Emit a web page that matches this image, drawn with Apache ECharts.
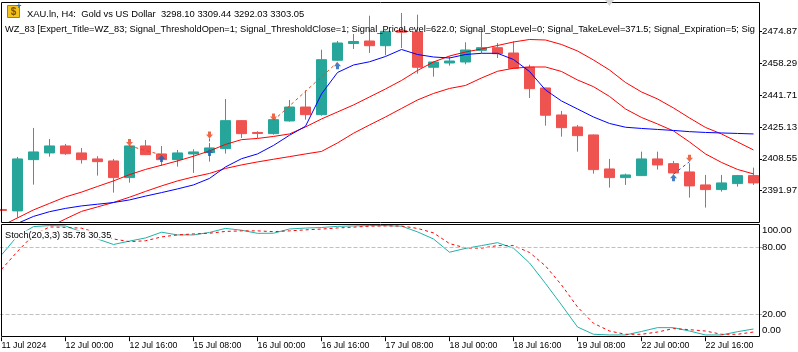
<!DOCTYPE html>
<html>
<head>
<meta charset="utf-8">
<script src="https://cdn.jsdelivr.net/npm/echarts@6/dist/echarts.min.js"></script>
<style>
  html, body { margin: 0; padding: 0; background: #fff; }
  #chart { width: 798px; height: 352px; }
</style>
</head>
<body>
<div id="chart"></div>
<script>
// H4 bars, oldest first (first bar is cut by the left edge)
const times = [
  '11 Jul 08:00', '11 Jul 12:00', '11 Jul 16:00', '11 Jul 20:00',
  '12 Jul 00:00', '12 Jul 04:00', '12 Jul 08:00', '12 Jul 12:00',
  '12 Jul 16:00', '12 Jul 20:00', '15 Jul 00:00', '15 Jul 04:00',
  '15 Jul 08:00', '15 Jul 12:00', '15 Jul 16:00', '15 Jul 20:00',
  '16 Jul 00:00', '16 Jul 04:00', '16 Jul 08:00', '16 Jul 12:00',
  '16 Jul 16:00', '16 Jul 20:00', '17 Jul 00:00', '17 Jul 04:00',
  '17 Jul 08:00', '17 Jul 12:00', '17 Jul 16:00', '17 Jul 20:00',
  '18 Jul 00:00', '18 Jul 04:00', '18 Jul 08:00', '18 Jul 12:00',
  '18 Jul 16:00', '18 Jul 20:00', '19 Jul 00:00', '19 Jul 04:00',
  '19 Jul 08:00', '19 Jul 12:00', '19 Jul 16:00', '19 Jul 20:00',
  '22 Jul 00:00', '22 Jul 04:00', '22 Jul 08:00', '22 Jul 12:00',
  '22 Jul 16:00', '22 Jul 20:00', '23 Jul 00:00', '23 Jul 04:00'
];
const firstLabel = '11 Jul 2024';

const open = [
  2382.20, 2381.46, 2408.13, 2411.61, 2415.25, 2411.61, 2408.49, 2407.45,
  2398.77, 2415.25, 2411.09, 2408.13, 2411.09, 2411.77, 2413.85, 2428.41,
  2422.27, 2421.64, 2428.25, 2435.49, 2431.52, 2459.80, 2468.53, 2469.83,
  2467.38, 2475.30, 2474.51, 2456.16, 2458.39, 2458.91, 2464.99, 2466.35,
  2463.59, 2456.16, 2445.40, 2431.36, 2425.12, 2420.97, 2403.29, 2398.77,
  2399.81, 2408.49, 2406.05, 2401.73, 2394.98, 2392.54, 2395.66, 2399.81
];
const close = [
  2381.70, 2408.49, 2412.13, 2415.25, 2411.20, 2408.13, 2407.09, 2398.77,
  2415.25, 2410.72, 2408.13, 2411.61, 2412.13, 2414.21, 2428.41, 2421.64,
  2421.75, 2428.92, 2435.49, 2431.52, 2460.11, 2468.79, 2469.57, 2467.38,
  2474.87, 2474.40, 2456.16, 2458.91, 2459.43, 2465.15, 2466.35, 2463.23,
  2455.64, 2445.03, 2431.21, 2424.76, 2420.60, 2402.93, 2398.77, 2400.17,
  2408.49, 2405.37, 2401.21, 2394.46, 2392.54, 2396.02, 2399.81, 2396.02
];
const low = [
  2381.50, 2377.98, 2395.13, 2409.69, 2410.57, 2406.05, 2399.81, 2390.97,
  2396.17, 2410.50, 2404.85, 2404.50, 2401.21, 2407.09, 2411.25, 2419.40,
  2419.40, 2421.12, 2427.90, 2428.92, 2431.00, 2459.43, 2465.67, 2463.59,
  2462.39, 2466.19, 2452.83, 2451.27, 2457.00, 2457.72, 2463.59, 2460.99,
  2455.27, 2440.20, 2425.80, 2420.08, 2412.29, 2400.85, 2393.57, 2394.98,
  2399.60, 2402.93, 2400.90, 2388.37, 2383.18, 2391.49, 2394.09, 2394.98
];
const high = [
  2382.40, 2409.53, 2424.61, 2418.89, 2416.29, 2414.21, 2409.90, 2408.49,
  2415.50, 2418.37, 2415.25, 2413.17, 2413.53, 2416.80, 2439.68, 2428.60,
  2422.90, 2429.50, 2439.16, 2444.20, 2465.30, 2469.83, 2473.47, 2482.98,
  2475.30, 2484.38, 2483.50, 2459.20, 2461.87, 2469.15, 2475.03, 2468.79,
  2469.67, 2457.51, 2445.60, 2433.44, 2426.16, 2421.20, 2408.49, 2400.85,
  2412.29, 2412.29, 2407.45, 2406.26, 2400.17, 2400.17, 2400.17, 2403.97
];

// moving averages drawn on price
const maBlue = [
  2371.59, 2374.97, 2378.60, 2381.05, 2382.76, 2384.06, 2384.94, 2385.83,
  2387.18, 2389.16, 2390.98, 2392.90, 2394.98, 2398.36, 2404.33, 2408.60,
  2411.09, 2415.51, 2420.81, 2425.49, 2442.28, 2453.45, 2457.35, 2459.02,
  2461.77, 2465.41, 2462.81, 2461.51, 2460.99, 2462.81, 2463.43, 2463.43,
  2460.21, 2453.97, 2444.36, 2438.64, 2434.48, 2430.30, 2426.94, 2424.97,
  2424.35, 2423.83, 2423.31, 2422.68, 2422.27, 2422.01, 2421.75, 2421.49
];
const maRedUpper = [
  2373.67, 2377.82, 2381.98, 2385.36, 2388.74, 2391.23, 2394.18, 2397.05,
  2400.33, 2403.03, 2405.22, 2407.45, 2409.90, 2412.65, 2416.03, 2418.53,
  2419.15, 2420.19, 2421.49, 2425.13, 2429.28, 2432.92, 2436.56, 2440.72,
  2444.88, 2449.30, 2454.49, 2458.91, 2462.03, 2464.11, 2465.67, 2467.49,
  2469.31, 2470.61, 2470.35, 2468.01, 2464.63, 2459.95, 2454.75, 2448.26,
  2443.32, 2439.68, 2435.00, 2429.80, 2424.87, 2421.49, 2417.33, 2413.17
];
const maRedLower = [
  2366.39, 2367.95, 2370.55, 2373.15, 2377.30, 2381.20, 2383.54, 2385.88,
  2388.58, 2391.60, 2394.46, 2397.06, 2399.14, 2400.95, 2403.55, 2405.37,
  2406.93, 2408.33, 2409.69, 2411.09, 2412.39, 2416.81, 2421.85, 2426.16,
  2430.32, 2434.74, 2439.16, 2442.54, 2445.14, 2446.70, 2450.60, 2454.08,
  2455.64, 2456.31, 2456.31, 2453.97, 2449.56, 2446.07, 2441.00, 2434.48,
  2430.06, 2426.68, 2423.05, 2417.33, 2411.09, 2406.67, 2403.03, 2400.69
];

// Stochastic(20,3,3)
const stochMain = [
  73.2, 90.1, 98.4, 99.3, 99.0, 93.7, 87.4, 82.5, 85.5, 88.3, 93.4, 91.0,
  91.0, 93.2, 96.8, 95.2, 92.4, 92.5, 96.3, 97.1, 97.6, 98.6, 99.0, 99.3,
  99.3, 98.8, 93.7, 87.4, 75.6, 79.0, 81.5, 84.1, 79.2, 66.1, 47.8, 28.7,
  9.1, 2.6, 2.0, 2.0, 5.1, 8.5, 8.5, 5.5, 2.0, 2.0, 4.9, 7.3
];
const stochSignal = [
  60.3, 76.3, 91.0, 98.1, 97.7, 97.0, 92.8, 87.4, 85.0, 85.8, 89.2, 91.0,
  91.9, 92.5, 94.1, 94.6, 94.6, 93.9, 94.6, 95.5, 96.2, 97.2, 97.9, 98.8,
  99.0, 98.9, 96.8, 92.8, 83.3, 79.4, 79.2, 81.5, 81.5, 75.4, 63.4, 46.5,
  26.9, 12.4, 5.5, 2.6, 2.6, 4.6, 7.7, 6.7, 5.5, 2.6, 2.6, 4.6
];

// trades of the expert: entry bar/price, exit bar/price
const tradeSide = ['sell', 'sell', 'sell', 'buy'];
const tradeOpenBar = [8, 13, 17, 42];
const tradeOpenPrice = [2415.25, 2419.15, 2428.50, 2400.54];
const tradeCloseBar = [10, 13, 21, 43];
const tradeClosePrice = [2410.57, 2413.69, 2458.76, 2407.09];

const priceTicks = [2391.97, 2408.55, 2425.13, 2441.71, 2458.29, 2474.87];
const stochLabels = [0, 20, 80, 100];
const stochLevels = [20, 80];

const headerTitle = 'XAU.ln, H4:  Gold vs US Dollar  3298.10 3309.44 3292.03 3303.05';
const headerExpert = 'WZ_83 [Expert_Title=WZ_83; Signal_ThresholdOpen=1; Signal_ThresholdClose=1; Signal_PriceLevel=622.0; Signal_StopLevel=0; Signal_TakeLevel=371.5; Signal_Expiration=5; Signal_MA_Period=12; Signal_MA_Shift=6]';
const stochTitle = 'Stoch(20,3,3) 35.78 30.35';

const FONT = 'Liberation Sans, Arial, sans-serif';
const UP = '#26a69a';
const DOWN = '#ef5350';
const SELL = '#e8431c';
const BUY = '#1a5fb4';
const ARROW_DOWN = 'path://M2,0 L5,0 L5,3 L7,3 L3.5,7 L0,3 L2,3 Z';
const ARROW_UP = 'path://M3.5,0 L7,4 L5,4 L5,7 L2,7 L2,4 L0,4 Z';

const candles = times.map((t, i) => [open[i], close[i], low[i], high[i]]);

const sellMarks = [];
const buyMarks = [];
tradeSide.forEach((s, i) => {
  if (s === 'sell') {
    sellMarks.push([tradeOpenBar[i], tradeOpenPrice[i]]);
    buyMarks.push([tradeCloseBar[i], tradeClosePrice[i]]);
  } else {
    buyMarks.push([tradeOpenBar[i], tradeOpenPrice[i]]);
    sellMarks.push([tradeCloseBar[i], tradeClosePrice[i]]);
  }
});

const tradeLines = tradeSide.map((s, i) => ({
  type: 'line',
  xAxisIndex: 0,
  yAxisIndex: 0,
  data: [[tradeOpenBar[i], tradeOpenPrice[i]], [tradeCloseBar[i], tradeClosePrice[i]]],
  symbol: 'none',
  silent: true,
  z: 4,
  lineStyle: { color: s === 'sell' ? SELL : BUY, width: 1, type: [3, 3] }
}));

const everyFourth = (i) => i % 4 === 0;

const chart = echarts.init(document.getElementById('chart'));

chart.setOption({
  animation: false,
  backgroundColor: '#fff',
  grid: [
    { left: -6.5, top: 3, width: 768, height: 219, outerBoundsMode: 'none' },
    { left: -6.5, top: 224.8, width: 768, height: 112.4, outerBoundsMode: 'none' }
  ],
  xAxis: [
    { type: 'category', gridIndex: 0, data: times, boundaryGap: true, show: false },
    {
      type: 'category', gridIndex: 1, data: times, boundaryGap: true,
      axisLine: { show: false },
      axisTick: { show: true, alignWithLabel: true, interval: everyFourth, length: 4, lineStyle: { color: '#000' } },
      axisLabel: {
        interval: everyFourth, align: 'left', margin: 4, color: '#000',
        fontFamily: FONT, fontSize: 8.8,
        formatter: (v, i) => (i === 0 ? firstLabel : v)
      },
      splitLine: { show: false }
    }
  ],
  yAxis: [
    {
      type: 'value', gridIndex: 0, position: 'right', offset: -2.5,
      min: 2375.69, max: 2489.59,
      axisLine: { show: false },
      axisTick: { show: true, customValues: priceTicks, length: 3, lineStyle: { color: '#000' } },
      axisLabel: {
        customValues: priceTicks, margin: 3, color: '#000',
        fontFamily: FONT, fontSize: 9.7,
        formatter: (v) => v.toFixed(2)
      },
      splitLine: { show: false }
    },
    {
      type: 'value', gridIndex: 1, position: 'right', offset: -2.5,
      min: 0, max: 100, interval: 20,
      axisLine: { show: false },
      axisTick: { show: true, customValues: stochLevels, length: 3, lineStyle: { color: '#a0a0a0' } },
      axisLabel: {
        customValues: stochLabels, margin: 3, color: '#000',
        fontFamily: FONT, fontSize: 9.7,
        formatter: (v) => (v === 100 ? '{top|100.00}' : v === 0 ? '{bot|0.00}' : v.toFixed(2)),
        rich: {
          top: { padding: [12, 0, 0, 0], fontFamily: FONT, fontSize: 9.7, color: '#000' },
          bot: { padding: [0, 0, 14, 0], fontFamily: FONT, fontSize: 9.7, color: '#000' }
        }
      },
      splitLine: { show: false }
    }
  ],
  series: [
    {
      type: 'candlestick', xAxisIndex: 0, yAxisIndex: 0, data: candles,
      barWidth: 10, z: 2,
      itemStyle: { color: UP, color0: DOWN, borderColor: UP, borderColor0: DOWN, borderWidth: 1 }
    },
    {
      type: 'line', xAxisIndex: 0, yAxisIndex: 0, data: maRedLower, symbol: 'none', z: 3,
      lineStyle: { color: '#ff0000', width: 1 }
    },
    {
      type: 'line', xAxisIndex: 0, yAxisIndex: 0, data: maRedUpper, symbol: 'none', z: 3,
      lineStyle: { color: '#ff0000', width: 1 }
    },
    {
      type: 'line', xAxisIndex: 0, yAxisIndex: 0, data: maBlue, symbol: 'none', z: 3,
      lineStyle: { color: '#0000ff', width: 1 }
    },
    ...tradeLines,
    {
      type: 'scatter', xAxisIndex: 0, yAxisIndex: 0, data: sellMarks, z: 5,
      symbol: ARROW_DOWN, symbolSize: [7, 7], symbolOffset: [0, -3.5],
      itemStyle: { color: SELL }
    },
    {
      type: 'scatter', xAxisIndex: 0, yAxisIndex: 0, data: buyMarks, z: 5,
      symbol: ARROW_UP, symbolSize: [7, 7], symbolOffset: [0, 3.5],
      itemStyle: { color: BUY }
    },
    {
      type: 'line', xAxisIndex: 1, yAxisIndex: 1, data: stochMain, symbol: 'none', z: 3,
      lineStyle: { color: '#20b2aa', width: 1 },
      markLine: {
        silent: true, symbol: 'none', label: { show: false },
        lineStyle: { color: '#c0c0c0', type: [4, 2], width: 1 },
        data: stochLevels.map((v) => ({ yAxis: v }))
      }
    },
    {
      type: 'line', xAxisIndex: 1, yAxisIndex: 1, data: stochSignal, symbol: 'none', z: 3,
      lineStyle: { color: '#ff0000', width: 1, type: [3, 3] }
    }
  ],
  graphic: [
    {
      type: 'rect', z: 100, silent: true,
      shape: { x: 1.5, y: 2.5, width: 758, height: 220 },
      style: { fill: null, stroke: '#000', lineWidth: 1 }
    },
    {
      type: 'rect', z: 100, silent: true,
      shape: { x: 1.5, y: 224.5, width: 758, height: 112 },
      style: { fill: null, stroke: '#000', lineWidth: 1 }
    },
    {
      type: 'polygon', z: 101, silent: true,
      shape: { points: [[605, 0], [614, 0], [609.5, 6]] },
      style: { fill: '#d4d4d4' }
    },
    {
      type: 'rect', z: 101, silent: true,
      shape: { x: 7.5, y: 5.5, width: 12, height: 12 },
      style: { fill: '#f3c21c', stroke: '#a9800a', lineWidth: 1 }
    },
    {
      type: 'text', z: 102, silent: true, x: 13.5, y: 12,
      style: { text: '$', fill: '#7a5200', font: 'bold 10px ' + FONT, align: 'center', verticalAlign: 'middle' }
    },
    {
      type: 'text', z: 102, silent: true, x: 19, y: 6.5,
      style: { text: '+', fill: '#1e6fd9', font: 'bold 9px ' + FONT, align: 'center', verticalAlign: 'middle' }
    },
    {
      type: 'text', z: 102, silent: true, x: 27, y: 14,
      style: { text: headerTitle, fill: '#000', font: '9.4px ' + FONT, verticalAlign: 'middle' }
    },
    {
      type: 'text', z: 102, silent: true, x: 5, y: 29,
      style: {
        text: headerExpert, fill: '#000', font: '9.28px ' + FONT, verticalAlign: 'middle',
        width: 752, overflow: 'truncate', ellipsis: ''
      }
    },
    {
      type: 'text', z: 102, silent: true, x: 5, y: 235,
      style: {
        text: stochTitle, fill: '#000', font: '9.2px ' + FONT, verticalAlign: 'middle',
        backgroundColor: '#fff'
      }
    }
  ]
});
</script>
</body>
</html>
